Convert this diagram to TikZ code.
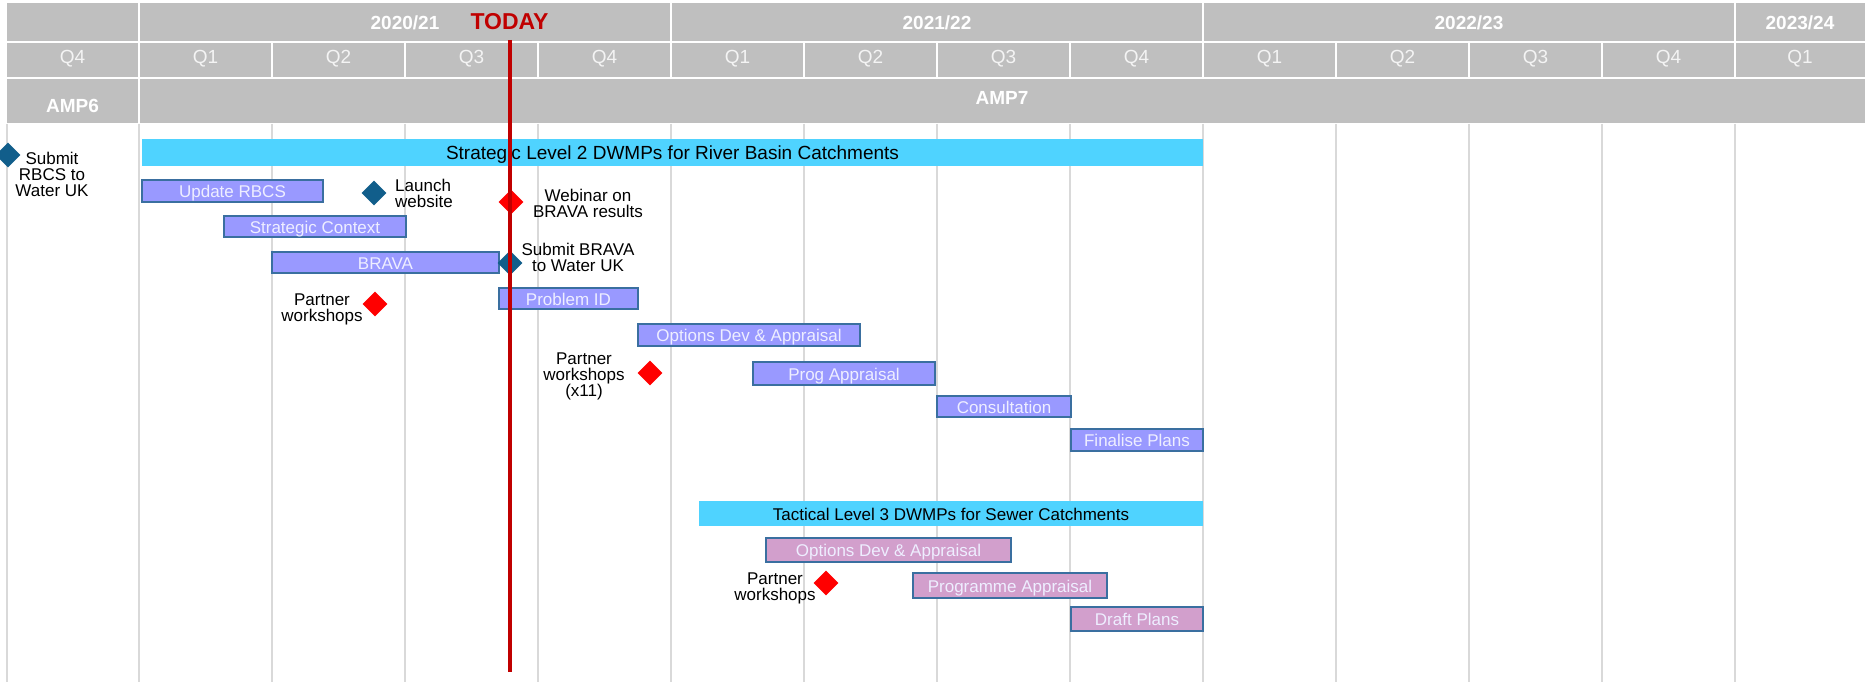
\documentclass[tikz,border=0pt]{standalone}
\usepackage{fontspec}
\setmainfont{Liberation Sans}
\usetikzlibrary{shapes.geometric}
\definecolor{hdr}{HTML}{BFBFBF}
\definecolor{gridc}{HTML}{D9D9D9}
\definecolor{cyanbar}{HTML}{4FD3FF}
\definecolor{bluebar}{HTML}{9999FF}
\definecolor{pinkbar}{HTML}{D29FCC}
\definecolor{barline}{HTML}{3A6FA0}
\definecolor{msblue}{HTML}{115E8B}
\definecolor{todayred}{HTML}{C00000}
\definecolor{qtext}{HTML}{F4F4F4}
\definecolor{bartext}{HTML}{EEEEFF}
\begin{document}
\begin{tikzpicture}[x=1pt,y=-1pt,
 yearlbl/.style={text=white,inner sep=0pt,font=\bfseries\fontsize{19}{19}\selectfont},
 qlbl/.style={text=qtext,inner sep=0pt,font=\fontsize{19}{19}\selectfont},
 gridline/.style={draw=gridc,line width=2pt},
 phase/.style={fill=cyanbar,draw=none,inner sep=0pt,text=black,text height=14pt,text depth=0pt},
 taskA/.style={fill=bluebar,draw=barline,line width=1.2pt,inner sep=0pt,text=bartext,font=\fontsize{17}{17}\selectfont,text height=13.5pt,text depth=0pt},
 taskB/.style={taskA,fill=pinkbar},
 msdark/.style={shape=diamond,fill=msblue,inner sep=0pt,minimum width=25pt,minimum height=25pt},
 msred/.style={msdark,fill=red},
 lbl/.style={align=center,font=\fontsize{17}{16}\selectfont,text=black,inner sep=0pt},
]
\useasboundingbox (0,0) rectangle (1865,682);
\fill[white] (0,0) rectangle (1865,682);
% grid lines
\foreach \x in {7,139,272,405,538,671,804,937,1070,1203,1336,1469,1602,1735}
  \draw[gridline] (\x,124) -- (\x,682);
% header row 1
\foreach \a/\b in {6/139,139/671,671/1203,1203/1735,1735/1867}
  \fill[hdr] (\a+1,3) rectangle (\b-1,41);
% header row 2
\fill[hdr] (7,43) rectangle (138,77);
\foreach \i in {0,...,11}
  \fill[hdr] (139+133*\i+1,43) rectangle (139+133*\i+132,77);
\fill[hdr] (1736,43) rectangle (1867,77);
% header row 3
\fill[hdr] (7,79) rectangle (138,123);
\fill[hdr] (140,79) rectangle (1867,123);
% header texts
\node[yearlbl] (y1) at (405,23) {2020/21};
\node[yearlbl] (y2) at (937,23) {2021/22};
\node[yearlbl] (y3) at (1469,23) {2022/23};
\node[yearlbl] (y4) at (1800,23) {2023/24};
\node[qlbl] (q0) at (72.5,59) {Q4};
\foreach \i/\q in {0/Q1,1/Q2,2/Q3,3/Q4,4/Q1,5/Q2,6/Q3,7/Q4,8/Q1,9/Q2,10/Q3,11/Q4}
  \node[qlbl] (q\i) at (139+133*\i+66.5,59) {\q};
\node[qlbl] (q12) at (1800,59) {Q1};
\node[yearlbl] (amp6) at (72.5,106) {AMP6};
\node[yearlbl] (amp7) at (1002,98) {AMP7};
\node[text=todayred,inner sep=0pt,font=\bfseries\fontsize{23}{23}\selectfont] (today) at (509.5,22) {TODAY};
% strategic level 2
\node[phase,minimum width=1061pt,minimum height=27pt,font=\fontsize{19}{19}\selectfont] (strat) at (672.5,152.5) {Strategic Level 2 DWMPs for River Basin Catchments};
\node[taskA,minimum width=181pt,minimum height=22pt] (rbcs) at (232.5,191) {Update RBCS};
\node[taskA,minimum width=182pt,minimum height=21pt] (context) at (315,226.5) {Strategic Context};
\node[taskA,minimum width=227pt,minimum height=21pt] (brava) at (385.5,262.5) {BRAVA};
\node[taskA,minimum width=139pt,minimum height=21pt] (probid) at (568.5,298.5) {Problem ID};
\node[taskA,minimum width=222pt,minimum height=22pt] (optdev) at (749,335) {Options Dev \& Appraisal};
\node[taskA,minimum width=182pt,minimum height=23pt] (prog) at (844,373.5) {Prog Appraisal};
\node[taskA,minimum width=134pt,minimum height=21pt] (consult) at (1004,406.5) {Consultation};
\node[taskA,minimum width=132pt,minimum height=22pt] (final) at (1137,440) {Finalise Plans};
% tactical level 3
\node[phase,minimum width=504pt,minimum height=25pt,font=\fontsize{17}{17}\selectfont,text height=13pt] (tact) at (951,513.5) {Tactical Level 3 DWMPs for Sewer Catchments};
\node[taskB,minimum width=245pt,minimum height=24pt] (optdevb) at (888.5,550) {Options Dev \& Appraisal};
\node[taskB,minimum width=194pt,minimum height=25pt] (progb) at (1010,585.5) {Programme Appraisal};
\node[taskB,minimum width=132pt,minimum height=24pt] (draft) at (1137,619) {Draft Plans};
% milestones
\node[msdark] (m1) at (8,155) {};
\node[lbl] (m1l) at (52,174) {Submit\\RBCS to\\Water UK};
\node[msdark] (m2) at (374,193) {};
\node[lbl,align=left,anchor=west] (m2l) at (395,193) {Launch\\website};
\node[msred] (m3) at (511,202) {};
\node[lbl] (m3l) at (588,203) {Webinar on\\BRAVA results};
\node[msdark] (m4) at (510,263) {};
\node[lbl] (m4l) at (578,257) {Submit BRAVA\\to Water UK};
\node[msred] (m5) at (375,304) {};
\node[lbl] (m5l) at (322,309) {Partner\\workshops};
\node[msred] (m6) at (650,373) {};
\node[lbl] (m6l) at (584,376) {Partner\\workshops\\(x11)};
\node[msred] (m7) at (826,583) {};
\node[lbl] (m7l) at (775,588) {Partner\\workshops};
% today line
\coordinate (ttop) at (509.5,40);
\coordinate (tbot) at (509.5,672);
\draw[todayred,line width=4pt] (ttop) -- (tbot);
\end{tikzpicture}
\end{document}
